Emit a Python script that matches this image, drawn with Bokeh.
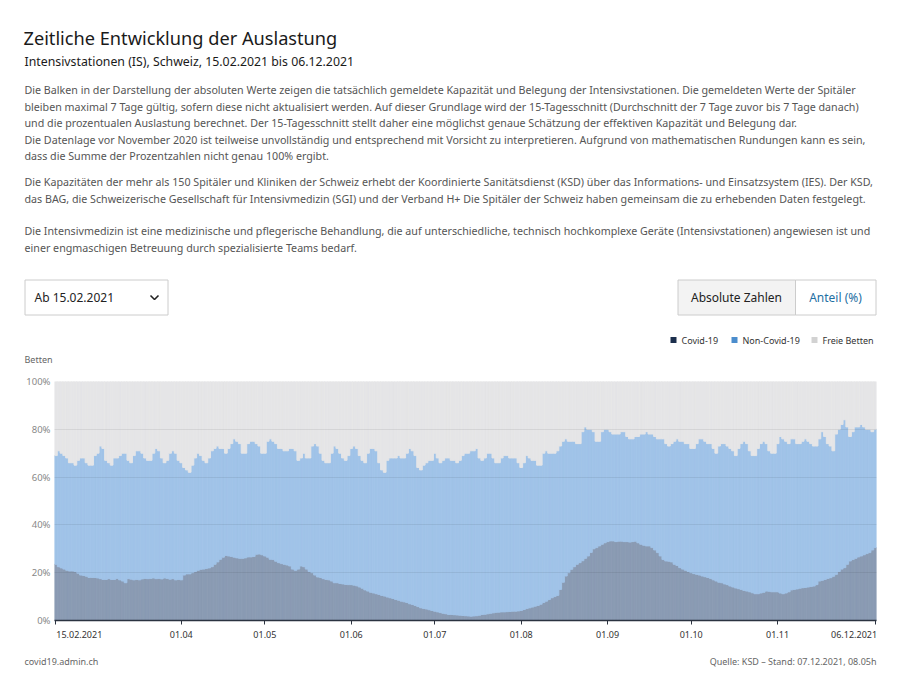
import pandas as pd
from bokeh.plotting import figure
from bokeh.layouts import column
from bokeh.models import Range1d, FixedTicker, ColumnDataSource, PrintfTickFormatter
from bokeh.core.properties import value
from bokeh.embed import file_html
from bokeh.resources import INLINE

# ---------------- data ----------------
start_date = "2021-02-15"
series_names = ["Covid-19", "Non-Covid-19", "Freie Betten"]

# share of ICU beds occupied by Covid-19 patients (%), daily from 15.02.2021
covid_pct = [
    23.5, 22.5, 22.0, 21.5, 21.0, 20.7, 20.7,
    20.5, 19.8, 19.0, 18.8, 18.5, 18.0, 18.0,
    18.0, 17.8, 17.5, 17.2, 17.2, 17.5, 17.2,
    17.2, 17.6, 17.0, 16.5, 15.8, 17.5, 17.3,
    17.0, 17.2, 17.0, 17.4, 17.6, 17.5, 17.6,
    17.8, 17.5, 17.6, 17.4, 17.8, 17.6, 17.3,
    17.5, 17.0, 17.2, 17.0, 19.0, 19.5, 19.5,
    20.0, 20.5, 21.0, 21.4, 21.5, 21.8, 22.0,
    22.5, 23.5, 24.5, 25.6, 26.5, 27.2, 27.0,
    26.8, 26.5, 26.2, 26.0, 26.0, 26.2, 26.6,
    26.6, 26.8, 27.7, 27.8, 27.5, 27.0, 26.5,
    25.6, 25.5, 24.8, 24.2, 23.8, 23.5, 23.2,
    22.8, 21.5, 21.0, 21.5, 22.8, 22.5, 21.5,
    20.5, 20.0, 19.0, 18.2, 18.0, 17.5, 17.2,
    17.0, 16.5, 15.8, 15.8, 15.5, 15.3, 15.1,
    15.0, 15.0, 14.8, 14.5, 14.0, 13.5, 12.8,
    12.3, 11.8, 11.5, 11.2, 10.9, 10.5, 10.2,
    9.8, 9.5, 9.2, 8.8, 8.5, 8.1, 7.8,
    7.5, 7.0, 6.7, 6.3, 5.8, 5.3, 5.0,
    4.8, 4.5, 4.2, 3.9, 3.6, 3.3, 3.0,
    2.8, 2.5, 2.5, 2.4, 2.3, 2.2, 2.1,
    2.0, 1.9, 1.8, 1.9, 2.0, 2.2, 2.5,
    2.6, 2.8, 3.0, 3.2, 3.4, 3.5, 3.6,
    3.6, 3.7, 3.8, 3.9, 3.9, 4.0, 4.2,
    4.6, 5.0, 5.3, 5.6, 6.0, 6.3, 6.8,
    7.5, 8.1, 8.8, 9.5, 10.0, 10.5, 13.0,
    16.0, 18.6, 20.0, 21.4, 22.5, 23.5, 24.2,
    25.0, 26.0, 27.0, 28.5, 30.0, 30.5, 31.2,
    31.9, 32.5, 33.0, 33.3, 33.3, 33.0, 33.2,
    33.2, 33.0, 33.0, 32.8, 33.0, 33.2, 32.5,
    31.9, 31.5, 31.2, 31.2, 30.5, 29.5, 28.4,
    27.0, 25.5, 24.9, 24.8, 24.5, 23.5, 23.0,
    22.1, 21.5, 21.0, 20.5, 20.0, 19.6, 19.3,
    19.0, 18.6, 18.3, 18.0, 17.6, 17.0, 16.5,
    16.0, 15.8, 15.3, 15.0, 14.4, 14.0, 13.6,
    13.3, 13.0, 12.6, 12.3, 12.0, 11.6, 11.2,
    11.2, 11.5, 11.8, 12.3, 12.2, 12.0, 12.0,
    12.0, 11.5, 11.2, 11.5, 12.0, 12.8, 13.0,
    13.2, 13.5, 13.7, 13.8, 14.0, 14.2, 14.4,
    15.0, 16.5, 16.8, 17.2, 17.6, 17.9, 18.5,
    19.3, 20.5, 21.5, 22.1, 23.5, 24.9, 25.5,
    26.0, 26.6, 27.0, 27.5, 28.0, 28.4, 29.5,
    30.5,
]

# total occupancy (Covid-19 + Non-Covid-19) in %, daily from 15.02.2021
total_pct = [
    69, 71, 70, 69, 68, 66, 66,
    65, 67, 68, 68, 66, 65, 65,
    69, 70, 73, 72, 67, 66, 65,
    68, 68, 69, 70, 70, 67, 66,
    69, 71, 71, 70, 68, 67, 67,
    70, 72, 71, 68, 66, 67, 70,
    71, 70, 67, 66, 64, 63, 62,
    65, 68, 70, 69, 67, 66, 68,
    71, 72, 73, 72, 72, 70, 72,
    74, 76, 75, 74, 70, 70, 74,
    75, 75, 74, 73, 70, 70, 75,
    76, 75, 74, 72, 72, 71, 71,
    72, 72, 71, 67, 68, 70, 68,
    68, 73, 74, 73, 70, 67, 66,
    66, 70, 73, 72, 70, 68, 67,
    69, 72, 73, 72, 69, 67, 66,
    70, 72, 72, 71, 66, 63, 62,
    67, 68, 68, 68, 69, 68, 68,
    70, 72, 71, 69, 64, 63, 65,
    66, 67, 67, 70, 68, 66, 67,
    68, 68, 67, 67, 66, 67, 69,
    70, 70, 71, 71, 72, 68, 67,
    68, 70, 70, 68, 66, 66, 68,
    69, 69, 68, 68, 68, 66, 64,
    66, 69, 68, 67, 67, 65, 65,
    70, 71, 70, 70, 70, 71, 73,
    75, 76, 75, 75, 75, 74, 74,
    79, 81, 80, 80, 79, 75, 75,
    79, 80, 80, 79, 78, 78, 78,
    79, 79, 77, 76, 76, 77, 77,
    78, 78, 79, 78, 78, 77, 76,
    76, 76, 74, 73, 74, 75, 76,
    75, 75, 74, 74, 72, 72, 74,
    76, 76, 75, 74, 74, 72, 70,
    73, 74, 74, 73, 72, 71, 69,
    72, 74, 75, 74, 71, 69, 69,
    72, 74, 75, 74, 71, 70, 70,
    74, 77, 76, 75, 74, 76, 76,
    74, 74, 75, 76, 75, 74, 73,
    73, 76, 79, 77, 74, 73, 71,
    78, 80, 82, 84, 81, 77, 79,
    81, 81, 82, 81, 80, 80, 79,
    80,
]

tick_dates = ["2021-02-15", "2021-04-01", "2021-05-01", "2021-06-01", "2021-07-01",
              "2021-08-01", "2021-09-01", "2021-10-01", "2021-11-01", "2021-12-06"]
tick_labels = ["15.02.2021", "01.04", "01.05", "01.06", "01.07",
               "01.08", "01.09", "01.10", "01.11", "06.12.2021"]
y_ticks = [0, 20, 40, 60, 80, 100]

# ---------------- styles ----------------
FONT = "Noto Sans"
chart_colors = ["#8a9bb3", "#a0c3e8", "#e5e5e7"]
legend_colors = ["#1c2f4d", "#4b8dcd", "#d2d2d2"]

dates = pd.date_range(start_date, periods=len(covid_pct), freq="D")
noncovid_pct = [t - c for t, c in zip(total_pct, covid_pct)]
free_pct = [100 - t for t in total_pct]
src = ColumnDataSource(dict(date=dates, covid=covid_pct, noncovid=noncovid_pct, free=free_pct))

DAY_MS = 86400000

# ---------------- header ----------------
HDR_H = 370
hdr = figure(width=900, height=HDR_H, x_range=Range1d(0, 900), y_range=Range1d(HDR_H, 0),
             toolbar_location=None, output_backend="svg", min_border=0,
             x_axis_location=None, y_axis_location=None, frame_align=False)
hdr.grid.visible = False
hdr.outline_line_color = None


def txt(fig, x, y, s, size, color, align="left", style="normal"):
    fig.text(x=[x], y=[y], text=[s], text_font=value(FONT), text_font_size=size,
             text_color=color, text_align=align, text_baseline="middle",
             text_font_style=style)


txt(hdr, 23, 37, "Zeitliche Entwicklung der Auslastung", "18.2px", "#1a1a1a")
txt(hdr, 24, 61, "Intensivstationen (IS), Schweiz, 15.02.2021 bis 06.12.2021", "12.3px", "#1a1a1a")

para1 = [
    "Die Balken in der Darstellung der absoluten Werte zeigen die tatsächlich gemeldete Kapazität und Belegung der Intensivstationen. Die gemeldeten Werte der Spitäler",
    "bleiben maximal 7 Tage gültig, sofern diese nicht aktualisiert werden. Auf dieser Grundlage wird der 15-Tagesschnitt (Durchschnitt der 7 Tage zuvor bis 7 Tage danach)",
    "und die prozentualen Auslastung berechnet. Der 15-Tagesschnitt stellt daher eine möglichst genaue Schätzung der effektiven Kapazität und Belegung dar.",
    "Die Datenlage vor November 2020 ist teilweise unvollständig und entsprechend mit Vorsicht zu interpretieren. Aufgrund von mathematischen Rundungen kann es sein,",
    "dass die Summe der Prozentzahlen nicht genau 100% ergibt.",
]
para2 = [
    "Die Kapazitäten der mehr als 150 Spitäler und Kliniken der Schweiz erhebt der Koordinierte Sanitätsdienst (KSD) über das Informations- und Einsatzsystem (IES). Der KSD,",
    "das BAG, die Schweizerische Gesellschaft für Intensivmedizin (SGI) und der Verband H+ Die Spitäler der Schweiz haben gemeinsam die zu erhebenden Daten festgelegt.",
]
para3 = [
    "Die Intensivmedizin ist eine medizinische und pflegerische Behandlung, die auf unterschiedliche, technisch hochkomplexe Geräte (Intensivstationen) angewiesen ist und",
    "einer engmaschigen Betreuung durch spezialisierte Teams bedarf.",
]
for i, line in enumerate(para1):
    txt(hdr, 24, 89.5 + i * 16.5, line, "10.7px", "#555555")
for i, line in enumerate(para2):
    txt(hdr, 24, 181.5 + i * 16.5, line, "10.7px", "#555555")
for i, line in enumerate(para3):
    txt(hdr, 24, 230.5 + i * 16.5, line, "10.7px", "#555555")

# dropdown
hdr.quad(left=[24.5], right=[167.5], top=[279.5], bottom=[314.5], fill_color="white",
         line_color="#cccccc", line_width=1)
txt(hdr, 34, 297, "Ab 15.02.2021", "12px", "#222222")
hdr.line(x=[150, 154, 158], y=[295, 299, 295], line_color="#222222", line_width=1.6)

# toggle buttons
hdr.quad(left=[677.5], right=[795], top=[279.5], bottom=[314.5], fill_color="#f3f3f3",
         line_color="#cccccc", line_width=1)
hdr.quad(left=[795], right=[875.5], top=[279.5], bottom=[314.5], fill_color="white",
         line_color="#cccccc", line_width=1)
txt(hdr, 736, 297, "Absolute Zahlen", "12px", "#222222", align="center")
txt(hdr, 835, 297, "Anteil (%)", "12px", "#1f6fa3", align="center")

# legend
leg_x = [673, 734, 814]
hdr.rect(x=leg_x, y=[339.5] * 3, width=6, height=6, fill_color=legend_colors, line_color=None)
for lx, name in zip(leg_x, series_names):
    txt(hdr, lx + 8, 339.5, name, "9px", "#333333")

txt(hdr, 24, 358.5, "Betten", "9px", "#666666")

# ---------------- chart ----------------
CH_H = 280
x0 = dates[0] - pd.Timedelta(hours=12)
x1 = dates[-1] + pd.Timedelta(hours=12)
p = figure(width=900, height=CH_H, x_axis_type="datetime",
           x_range=Range1d(x0, x1), y_range=Range1d(0, 100),
           toolbar_location=None, output_backend="svg", frame_align=False,
           min_border_left=54, min_border_right=24, min_border_top=11, min_border_bottom=30)
p.outline_line_color = None
p.background_fill_color = "white"

p.vbar_stack(["covid", "noncovid", "free"], x="date", width=DAY_MS, source=src,
             color=chart_colors, line_width=0.9)

tick_ms = [int(pd.Timestamp(d).value // 10**6) for d in tick_dates]
p.xaxis.ticker = FixedTicker(ticks=tick_ms)
overrides = {t: l for t, l in zip(tick_ms, tick_labels)}
# first label starts at its tick, last label ends at its tick
overrides[tick_ms[0]] = "\u00a0" * 20 + tick_labels[0]
overrides[tick_ms[-1]] = tick_labels[-1] + "\u00a0" * 10
p.xaxis.major_label_overrides = overrides
p.xaxis.axis_line_color = "#2b3340"
p.xaxis.axis_line_width = 1.5
p.xaxis.major_tick_line_color = "#2b3340"
p.xaxis.major_tick_out = 4
p.xaxis.major_tick_in = 0
p.xaxis.minor_tick_line_color = None
p.xaxis.major_label_text_font = FONT
p.xaxis.major_label_text_font_size = "9px"
p.xaxis.major_label_text_color = "#333333"
p.xaxis.major_label_standoff = 3

p.yaxis.ticker = FixedTicker(ticks=y_ticks)
p.yaxis.formatter = PrintfTickFormatter(format="%d%%")
p.yaxis.axis_line_color = None
p.yaxis.major_tick_line_color = None
p.yaxis.major_tick_out = 0
p.yaxis.major_tick_in = 0
p.yaxis.minor_tick_line_color = None
p.yaxis.major_label_text_font = FONT
p.yaxis.major_label_text_font_size = "9.5px"
p.yaxis.major_label_text_color = "#888888"
p.yaxis.major_label_standoff = 4

p.xgrid.visible = False
p.ygrid.ticker = FixedTicker(ticks=[20, 40, 60, 80, 100])
p.ygrid.grid_line_color = "#000000"
p.ygrid.grid_line_alpha = 0.07
p.ygrid.level = "overlay"

# ---------------- footer ----------------
FT_H = 691 - HDR_H - CH_H
ft = figure(width=900, height=FT_H, x_range=Range1d(0, 900), y_range=Range1d(FT_H, 0),
            toolbar_location=None, output_backend="svg", min_border=0,
            x_axis_location=None, y_axis_location=None, frame_align=False)
ft.grid.visible = False
ft.outline_line_color = None
txt(ft, 24, 11, "covid19.admin.ch", "9px", "#666666")
txt(ft, 876, 11, "Quelle: KSD – Stand: 07.12.2021, 08.05h", "9px", "#666666", align="right")

layout = column(hdr, p, ft, spacing=0)
open("out.html", "w").write(file_html(layout, INLINE))
